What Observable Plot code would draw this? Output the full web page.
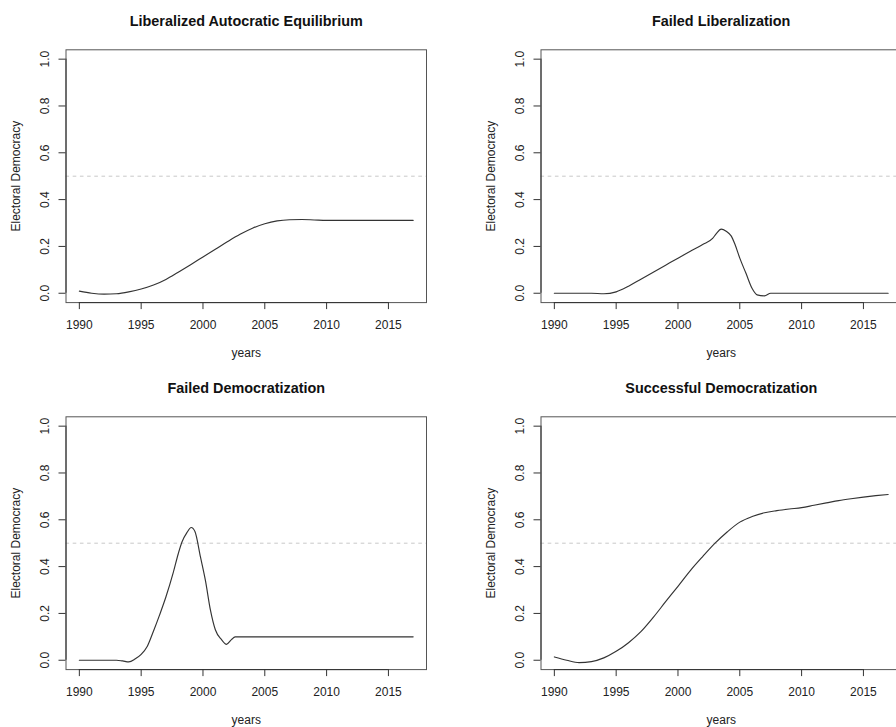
<!DOCTYPE html>
<html><head><meta charset="utf-8">
<script src="https://cdn.jsdelivr.net/npm/d3@7"></script>
<script src="https://cdn.jsdelivr.net/npm/@observablehq/plot@0.6"></script>
<style>
html,body{margin:0;padding:0;background:#fff;}
#fig{position:relative;width:896px;height:727px;overflow:hidden;background:#fff;}
.panel{position:absolute;width:475px;height:367px;}
</style></head><body><div id="fig"></div>
<script>
// ---- data ----
const titles = ["Liberalized Autocratic Equilibrium", "Failed Liberalization", "Failed Democratization", "Successful Democratization"];
const xTicks = [1990, 1995, 2000, 2005, 2010, 2015];
const yTicks = [0, 0.2, 0.4, 0.6, 0.8, 1.0];
const yLabel = "Electoral Democracy";
const xLabel = "years";
const refLine = 0.5;
const yLimits = [0, 1];

const laeYears = [1990,1991,1992,1993,1994,1995,1996,1997,1998,1999,2000,2001,2002,2003,2004,2005,2006,2007,2008,2009,2010,2011,2012,2013,2014,2015,2016,2017];
const laeValues = [0.009,0.0,-0.004,-0.002,0.006,0.018,0.035,0.059,0.09,0.122,0.155,0.188,0.221,0.252,0.278,0.297,0.309,0.314,0.315,0.313,0.311,0.311,0.311,0.311,0.311,0.311,0.311,0.311];

const flYears = [1990,1991,1992,1993,1994,1995,1996,1997,1998,1999,2000,2001,2002,2002.8,2003.1,2003.5,2003.9,2004.3,2004.6,2005,2005.5,2006,2006.4,2007,2007.5,2008,2009,2010,2011,2012,2013,2014,2015,2016,2017];
const flValues = [0,0,0,0,-0.002,0.006,0.03,0.06,0.09,0.12,0.15,0.179,0.208,0.234,0.255,0.274,0.265,0.245,0.21,0.15,0.085,0.02,-0.007,-0.011,0,0,0,0,0,0,0,0,0,0,0];

const fdYears = [1990,1991,1992,1993,1993.5,1994,1994.5,1995,1995.5,1996,1996.5,1997,1997.6,1998,1998.3,1998.7,1999.05,1999.35,1999.8,2000.2,2000.6,2001,2001.5,2001.9,2002.3,2002.6,2003,2004,2005,2006,2007,2008,2009,2010,2011,2012,2013,2014,2015,2016,2017];
const fdValues = [0,0,0,0,-0.003,-0.007,0.005,0.025,0.06,0.125,0.195,0.27,0.375,0.455,0.505,0.545,0.567,0.55,0.44,0.34,0.215,0.13,0.088,0.068,0.088,0.1,0.1,0.1,0.1,0.1,0.1,0.1,0.1,0.1,0.1,0.1,0.1,0.1,0.1,0.1,0.1];

const sdYears = [1990,1991,1992,1993,1994,1995,1996,1997,1998,1999,2000,2001,2002,2003,2004,2005,2006,2007,2008,2009,2010,2011,2012,2013,2014,2015,2016,2017];
const sdValues = [0.014,0.0,-0.01,-0.006,0.01,0.038,0.075,0.122,0.183,0.25,0.316,0.383,0.443,0.5,0.549,0.59,0.614,0.63,0.639,0.646,0.652,0.662,0.672,0.682,0.69,0.697,0.703,0.708];

const series = [
  {years: laeYears, values: laeValues},
  {years: flYears, values: flValues},
  {years: fdYears, values: fdValues},
  {years: sdYears, values: sdValues}
];

// ---- layout ----
const PW = 475, PH = 367;
const positions = [[0, 0], [PW, 0], [0, PH], [PW, PH]];
const font = "'Liberation Sans', Arial, Helvetica, sans-serif";
const ink = "#222";

const fig = document.getElementById("fig");

series.forEach((s, i) => {
  const data = s.years.map((yr, k) => ({year: yr, value: s.values[k]}));
  const [x0, x1] = d3.extent(s.years);
  const xpad = (x1 - x0) * 0.04;
  const ypad = (yLimits[1] - yLimits[0]) * 0.04;
  const xDomain = [x0 - xpad, x1 + xpad];
  const yDomain = [yLimits[0] - ypad, yLimits[1] + ypad];

  const chart = Plot.plot({
    width: PW,
    height: PH,
    marginLeft: 65.5,
    marginRight: 49,
    marginTop: 49.3,
    marginBottom: 64.9,
    style: {fontFamily: font, fontSize: "12px", color: ink, background: "white", overflow: "visible"},
    x: {domain: xDomain},
    y: {domain: yDomain},
    marks: [
      Plot.ruleY([refLine], {stroke: "#c8c8c8", strokeDasharray: "3.6,3.6", strokeWidth: 1}),
      Plot.line(data, {x: "year", y: "value", curve: "monotone-x", stroke: "#333", strokeWidth: 1.15}),
      Plot.frame({stroke: "#555"}),
      // axis lines (R style: from first to last tick)
      Plot.ruleY([yDomain[0]], {x1: d3.min(xTicks), x2: d3.max(xTicks), stroke: "#333"}),
      Plot.ruleX([xDomain[0]], {y1: d3.min(yTicks), y2: d3.max(yTicks), stroke: "#333"}),
      Plot.axisX(xTicks, {tickSize: 7, tickPadding: 10.4, tickFormat: "d", fontSize: 12, label: null, stroke: "#333", fill: ink}),
      Plot.axisY(yTicks, {tickSize: 7, tickFormat: () => "", label: null, stroke: "#333"}),
      Plot.text(yTicks, {x: xDomain[0], y: d => d, text: d => d3.format(".1f")(d), rotate: -90, textAnchor: "middle", lineAnchor: "bottom", dx: -17.3, fontSize: 12, fill: ink}),
      Plot.text([yLabel], {frameAnchor: "left", text: d => d, rotate: -90, textAnchor: "middle", lineAnchor: "bottom", dx: -46, fontSize: 12, fill: ink}),
      Plot.text([xLabel], {frameAnchor: "bottom", text: d => d, textAnchor: "middle", lineAnchor: "bottom", dy: 54.5, fontSize: 12, fill: ink}),
      Plot.text([titles[i]], {frameAnchor: "top", text: d => d, textAnchor: "middle", lineAnchor: "bottom", dy: -23.9, fontSize: 14.4, fontWeight: "bold", fill: "#111"})
    ]
  });
  const div = document.createElement("div");
  div.className = "panel";
  div.style.left = positions[i][0] + "px";
  div.style.top = positions[i][1] + "px";
  div.appendChild(chart);
  fig.appendChild(div);
});
</script>
</body></html>
